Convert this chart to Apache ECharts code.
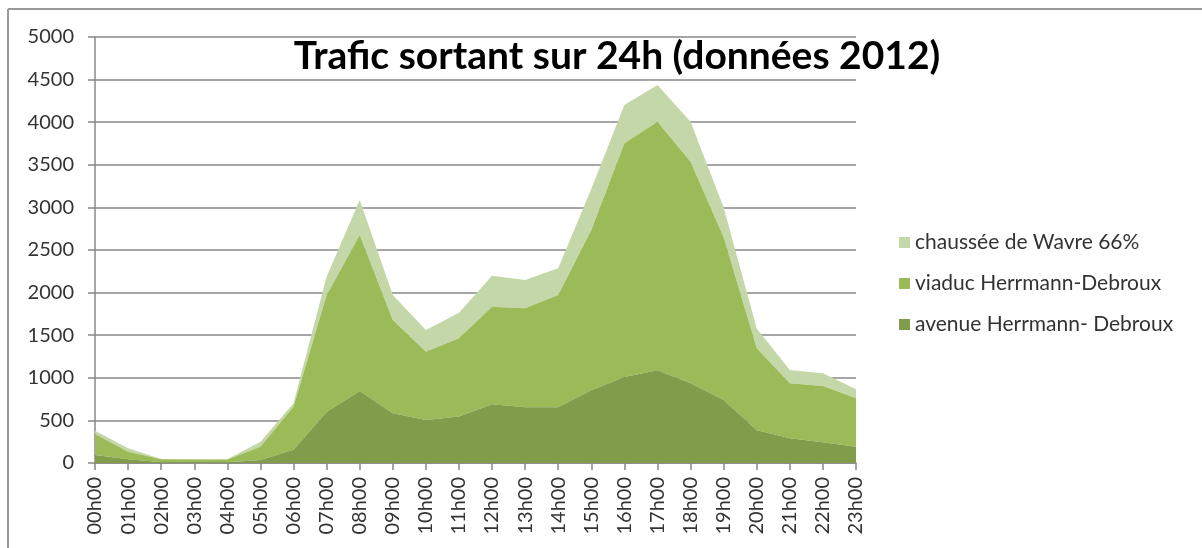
<!DOCTYPE html>
<html>
<head>
<meta charset="utf-8">
<script src="https://cdn.jsdelivr.net/npm/echarts@6/dist/echarts.min.js"></script>
<style>
  html, body { margin: 0; padding: 0; background: #fff; }
  #chart { width: 1202px; height: 548px; }
</style>
</head>
<body>
<div id="chart"></div>
<script>
const hours = ["00h00","01h00","02h00","03h00","04h00","05h00","06h00","07h00","08h00","09h00","10h00","11h00",
  "12h00","13h00","14h00","15h00","16h00","17h00","18h00","19h00","20h00","21h00","22h00","23h00"];
const avenue = [95, 45, 10, 8, 10, 35, 155, 600, 845, 585, 505, 545, 690, 655, 655, 855, 1010, 1090, 935, 740, 385, 290, 245, 190];
const viaduc = [245, 88, 33, 32, 30, 157, 506, 1370, 1830, 1093, 802, 918, 1145, 1160, 1317, 1880, 2742, 2916, 2602, 1910, 961, 645, 659, 569];
const chaussee = [39, 39, 4, 7, 5, 58, 39, 216, 411, 294, 254, 301, 364, 333, 313, 484, 450, 431, 469, 350, 234, 156, 148, 106];
const yTicks = [0, 500, 1000, 1500, 2000, 2500, 3000, 3500, 4000, 4500, 5000];

const colors = {
  avenue: "#7f9d4a",
  viaduc: "#9bbb59",
  chaussee: "#c4d7a8",
};

const chart = echarts.init(document.getElementById("chart"));

function areaSeries(name, data, color, z) {
  return {
    name: name,
    type: "line",
    stack: "total",
    data: data,
    symbol: "none",
    lineStyle: { width: 0 },
    areaStyle: { color: color, opacity: 1 },
    itemStyle: { color: color },
    z: z,
  };
}

const option = {
  animation: false,
  textStyle: { fontFamily: "Lato, 'Open Sans', sans-serif" },
  title: {
    text: "Trafic sortant sur 24h (données 2012)",
    left: 612,
    top: 32,
    textAlign: "center",
    textStyle: { fontSize: 39, fontWeight: "bold", color: "#000", fontFamily: "Lato" },
  },
  legend: {
    orient: "vertical",
    left: 894,
    top: 227,
    itemGap: 20,
    itemWidth: 11,
    itemHeight: 11,
    icon: "rect",
    textStyle: { fontSize: 21, color: "#333", fontFamily: "Lato" },
    data: ["chaussée de Wavre 66%", "viaduc Herrmann-Debroux", "avenue Herrmann- Debroux"],
  },
  grid: { left: 95, right: 346, top: 37, bottom: 85, containLabel: false },
  xAxis: {
    type: "category",
    boundaryGap: false,
    data: hours,
    axisLine: { lineStyle: { color: "#888", width: 1.5 } },
    axisTick: { show: true, length: 7, interval: 0, lineStyle: { color: "#888", width: 1.5 } },
    axisLabel: { rotate: 90, interval: 0, fontSize: 20, color: "#333", margin: 14 },
    splitLine: { show: false },
  },
  yAxis: {
    type: "value",
    min: yTicks[0],
    max: yTicks[yTicks.length - 1],
    interval: 500,
    axisLine: { show: true, lineStyle: { color: "#888", width: 1.5 } },
    axisTick: { show: true, length: 7, lineStyle: { color: "#888", width: 1.5 } },
    axisLabel: { fontSize: 20, color: "#333", margin: 21, formatter: (v) => String(v) },
    splitLine: { show: true, lineStyle: { color: "#888", width: 1.5 } },
  },
  graphic: [
    { type: "line", shape: { x1: 8, y1: 9, x2: 1202, y2: 9 }, style: { stroke: "#999", lineWidth: 2 } },
    { type: "line", shape: { x1: 8, y1: 9, x2: 8, y2: 548 }, style: { stroke: "#999", lineWidth: 2 } },
  ],
  series: [
    areaSeries("avenue Herrmann- Debroux", avenue, colors.avenue, 3),
    areaSeries("viaduc Herrmann-Debroux", viaduc, colors.viaduc, 2),
    areaSeries("chaussée de Wavre 66%", chaussee, colors.chaussee, 1),
  ],
};

chart.setOption(option);
</script>
</body>
</html>
